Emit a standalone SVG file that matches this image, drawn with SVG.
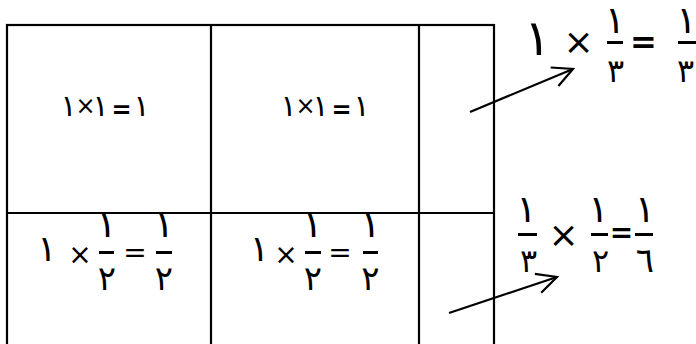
<svg xmlns="http://www.w3.org/2000/svg" width="696" height="344" viewBox="0 0 696 344">
<style>
.t{font-family:"DejaVu Sans","Noto Sans",sans-serif;fill:#000;text-anchor:middle}
.o{unicode-bidi:bidi-override;direction:ltr}
.grid{fill:none;stroke:#000;stroke-width:2.2}
.bar{stroke:#000;stroke-width:3}
.arrow{stroke:#000;stroke-width:2.2;fill:none}
</style>
<defs>
<marker id="arr" markerUnits="userSpaceOnUse" markerWidth="30" markerHeight="30" viewBox="-25 -15 30 30" refX="0" refY="0" orient="auto" overflow="visible">
<path d="M-20,-10 L0,0 L-20,10" fill="none" stroke="#000" stroke-width="2.2"/>
</marker>
</defs>
<rect fill="#fff" width="696" height="344"/>
<g id="table">
<rect class="grid" x="7" y="25" width="487" height="340"/>
<line class="grid" x1="211" y1="25" x2="211" y2="350"/>
<line class="grid" x1="419" y1="25" x2="419" y2="350"/>
<line class="grid" x1="7" y1="213" x2="494" y2="213"/>
</g>
<g id="cell1">
<text class="t o" y="116" font-size="30"><tspan x="68.5">١</tspan><tspan x="85.5" y="114" font-size="24">×</tspan><tspan x="100.5" y="116">١</tspan><tspan x="121.5" y="118" font-size="24" font-weight="bold">=</tspan><tspan x="141.5" y="116">١</tspan></text>
</g>
<g id="cell2">
<text class="t o" y="116" font-size="30"><tspan x="288.5">١</tspan><tspan x="305.5" y="114" font-size="24">×</tspan><tspan x="320.5" y="116">١</tspan><tspan x="341.5" y="118" font-size="24" font-weight="bold">=</tspan><tspan x="361.5" y="116">١</tspan></text>
</g>
<g id="cell3" font-size="38">
<text class="t" x="47" y="261" font-size="36">١</text>
<text class="t" x="80" y="264" font-size="28">×</text>
<text class="t" x="106.5" y="237">١</text>
<line class="bar" x1="99" y1="252.5" x2="114" y2="252.5"/>
<text class="t" x="107" y="290" font-size="34">٢</text>
<text class="t" x="135" y="262" font-size="28" fill="#555">=</text>
<text class="t" x="164" y="237">١</text>
<line class="bar" x1="156" y1="252.5" x2="172" y2="252.5"/>
<text class="t" x="164" y="290" font-size="34">٢</text>
</g>
<g id="cell4" font-size="38">
<text class="t" x="259.5" y="261" font-size="36">١</text>
<text class="t" x="286" y="264" font-size="28">×</text>
<text class="t" x="312.5" y="237">١</text>
<line class="bar" x1="305" y1="252.5" x2="321" y2="252.5"/>
<text class="t" x="313" y="290" font-size="34">٢</text>
<text class="t" x="340" y="262" font-size="28" fill="#555">=</text>
<text class="t" x="370.5" y="237">١</text>
<line class="bar" x1="363" y1="252.5" x2="378" y2="252.5"/>
<text class="t" x="370.5" y="290" font-size="34">٢</text>
</g>
<g id="eq-top" font-size="38">
<text class="t" x="537.5" y="55" font-size="50">١</text>
<text class="t" x="578.5" y="53.5" font-size="36">×</text>
<text class="t" x="615" y="33">١</text>
<line class="bar" x1="607" y1="42.5" x2="623" y2="42.5" stroke-width="3.5"/>
<text class="t" x="615.5" y="82" font-size="32">٣</text>
<text class="t" x="643.5" y="53" font-size="32" font-weight="bold" font-style="italic">=</text>
<text class="t" x="686.5" y="33">١</text>
<line class="bar" x1="678" y1="42.5" x2="696" y2="42.5" stroke-width="3.5"/>
<text class="t" x="685.5" y="82" font-size="32">٣</text>
</g>
<g id="eq-bottom" font-size="38">
<text class="t" x="526.5" y="222">١</text>
<line class="bar" x1="518" y1="234.5" x2="537" y2="234.5" stroke-width="3.5"/>
<text class="t" x="528.5" y="272" font-size="32">٣</text>
<text class="t" x="563.5" y="247" font-size="36">×</text>
<text class="t" x="598.5" y="222">١</text>
<line class="bar" x1="591" y1="234.5" x2="608" y2="234.5" stroke-width="3.5"/>
<text class="t" x="600.5" y="272" font-size="32">٢</text>
<text class="t" x="621.5" y="242" font-size="28" font-weight="bold">=</text>
<text class="t" x="645" y="222">١</text>
<line class="bar" x1="635" y1="234.5" x2="653" y2="234.5" stroke-width="3.5"/>
<text class="t" x="645" y="272" font-size="34">٦</text>
</g>
<g id="connectors">
<line class="arrow" x1="470" y1="112" x2="573" y2="69" marker-end="url(#arr)"/>
<line class="arrow" x1="449" y1="313" x2="557" y2="277" marker-end="url(#arr)"/>
</g>
</svg>
